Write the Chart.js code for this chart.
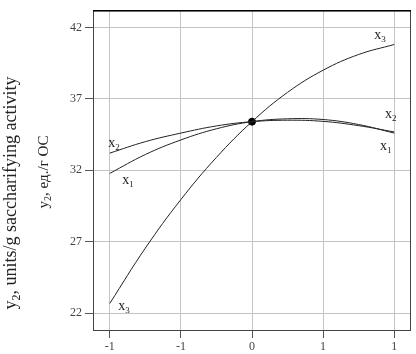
<!DOCTYPE html>
<html>
<head>
<meta charset="utf-8">
<script src="https://cdn.jsdelivr.net/npm/chart.js@4/dist/chart.umd.min.js"></script>
<style>
  html, body { margin: 0; padding: 0; background: #fff; }
  #wrap { width: 416px; height: 354px; position: relative; }
</style>
</head>
<body>
<div id="wrap"><canvas id="chart" width="416" height="354"></canvas></div>
<script>
// factor levels (coded) and response y2
const xLevels = [-1, -0.75, -0.5, -0.25, 0, 0.25, 0.5, 0.75, 1];
const seriesX1 = [31.78, 33.1, 34.12, 34.9, 35.4, 35.6, 35.55, 35.2, 34.6];
const seriesX2 = [33.2, 34.0, 34.6, 35.1, 35.4, 35.5, 35.42, 35.12, 34.68];
const seriesX3 = [22.68, 26.55, 29.95, 32.9, 35.4, 37.45, 39.0, 40.1, 40.8];
const centerPoint = [0, 35.4];

const xTickValues = [-1, -0.5, 0, 0.5, 1];
const xTickLabels = ['-1', '-1', '0', '1', '1'];
const yTickValues = [22, 27, 32, 37, 42];

// where the curve names sit (data coords)
const curveLabels = [
  { name: 'x', sub: '3', x: 0.86, y: 41.2 },
  { name: 'x', sub: '2', x: 0.935, y: 35.67 },
  { name: 'x', sub: '1', x: 0.9, y: 33.43 },
  { name: 'x', sub: '2', x: -1.01, y: 33.64 },
  { name: 'x', sub: '1', x: -0.913, y: 31.06 },
  { name: 'x', sub: '3', x: -0.94, y: 22.2 }
];

const toPoints = (ys) => ys.map((y, i) => ({ x: xLevels[i], y: y }));

const serif = '"Liberation Serif", "Times New Roman", serif';

const lineStyle = {
  showLine: true,
  borderColor: '#222',
  borderWidth: 1,
  pointRadius: 0,
  tension: 0.4,
  fill: false
};

const decorPlugin = {
  id: 'decor',
  afterDraw(chart) {
    const ctx = chart.ctx;
    const a = chart.chartArea;
    const sx = chart.scales.x, sy = chart.scales.y;
    ctx.save();
    // frame
    ctx.strokeStyle = '#444';
    ctx.lineWidth = 1;
    ctx.strokeRect(a.left + 0.5, a.top + 0.5, a.right - a.left - 1, a.bottom - a.top - 1);
    ctx.strokeStyle = '#000';
    ctx.lineWidth = 1.5;
    ctx.beginPath();
    ctx.moveTo(a.left, a.top + 0.5);
    ctx.lineTo(a.right, a.top + 0.5);
    ctx.stroke();

    // curve names
    ctx.fillStyle = '#222';
    ctx.textBaseline = 'alphabetic';
    ctx.textAlign = 'left';
    curveLabels.forEach(l => {
      const px = sx.getPixelForValue(l.x);
      const py = sy.getPixelForValue(l.y);
      ctx.font = '14px ' + serif;
      ctx.fillText(l.name, px, py);
      const w = ctx.measureText(l.name).width;
      ctx.font = '9px ' + serif;
      ctx.fillText(l.sub, px + w, py + 3);
    });

    // axis titles (rotated)
    ctx.fillStyle = '#222';
    ctx.textBaseline = 'middle';
    ctx.save();
    ctx.translate(11, 193);
    ctx.rotate(-Math.PI / 2);
    drawSubTitle(ctx, 'y', '2', ', units/g saccharifying activity', 18, 12);
    ctx.restore();
    ctx.save();
    ctx.translate(44, 172);
    ctx.rotate(-Math.PI / 2);
    drawSubTitle(ctx, 'y', '2', ', ед./г ОС', 15, 10);
    ctx.restore();
    ctx.restore();
  }
};

function drawSubTitle(ctx, a, sub, rest, big, small) {
  ctx.font = big + 'px ' + serif;
  const wa = ctx.measureText(a).width;
  const wr = ctx.measureText(rest).width;
  ctx.font = small + 'px ' + serif;
  const ws = ctx.measureText(sub).width;
  const total = wa + ws + wr;
  let x = -total / 2;
  ctx.textAlign = 'left';
  ctx.font = big + 'px ' + serif;
  ctx.fillText(a, x, 0);
  x += wa;
  ctx.font = small + 'px ' + serif;
  ctx.fillText(sub, x, big * 0.3);
  x += ws;
  ctx.font = big + 'px ' + serif;
  ctx.fillText(rest, x, 0);
}

new Chart(document.getElementById('chart').getContext('2d'), {
  type: 'scatter',
  data: {
    datasets: [
      Object.assign({ label: 'x1', data: toPoints(seriesX1) }, lineStyle),
      Object.assign({ label: 'x2', data: toPoints(seriesX2) }, lineStyle),
      Object.assign({ label: 'x3', data: toPoints(seriesX3) }, lineStyle),
      {
        label: 'center',
        data: [{ x: centerPoint[0], y: centerPoint[1] }],
        pointRadius: 3.5,
        backgroundColor: '#000',
        borderColor: '#000',
        showLine: false
      }
    ]
  },
  options: {
    responsive: false,
    animation: false,
    layout: { padding: { top: 10, right: 2, left: 0, bottom: 0 } },
    plugins: {
      legend: { display: false },
      tooltip: { enabled: false }
    },
    scales: {
      x: {
        type: 'linear',
        min: -1.118,
        max: 1.118,
        afterBuildTicks: (s) => { s.ticks = xTickValues.map(v => ({ value: v })); },
        afterFit: (s) => { s.height = 23; },
        border: { display: false },
        grid: { color: '#c4c4c4', lineWidth: 1, tickLength: 7, tickColor: '#555' },
        ticks: {
          color: '#444',
          font: { family: serif, size: 12 },
          padding: 2,
          maxRotation: 0,
          callback: (v) => {
            const i = xTickValues.indexOf(v);
            return i >= 0 ? xTickLabels[i] : '';
          }
        }
      },
      y: {
        type: 'linear',
        min: 20.75,
        max: 43.2,
        afterBuildTicks: (s) => { s.ticks = yTickValues.map(v => ({ value: v })); },
        afterFit: (s) => { s.width = 93; },
        border: { display: false },
        grid: { color: '#c4c4c4', lineWidth: 1, tickLength: 8, tickColor: '#555' },
        ticks: {
          color: '#444',
          font: { family: serif, size: 12 },
          padding: 3
        }
      }
    }
  },
  plugins: [decorPlugin]
});
</script>
</body>
</html>
